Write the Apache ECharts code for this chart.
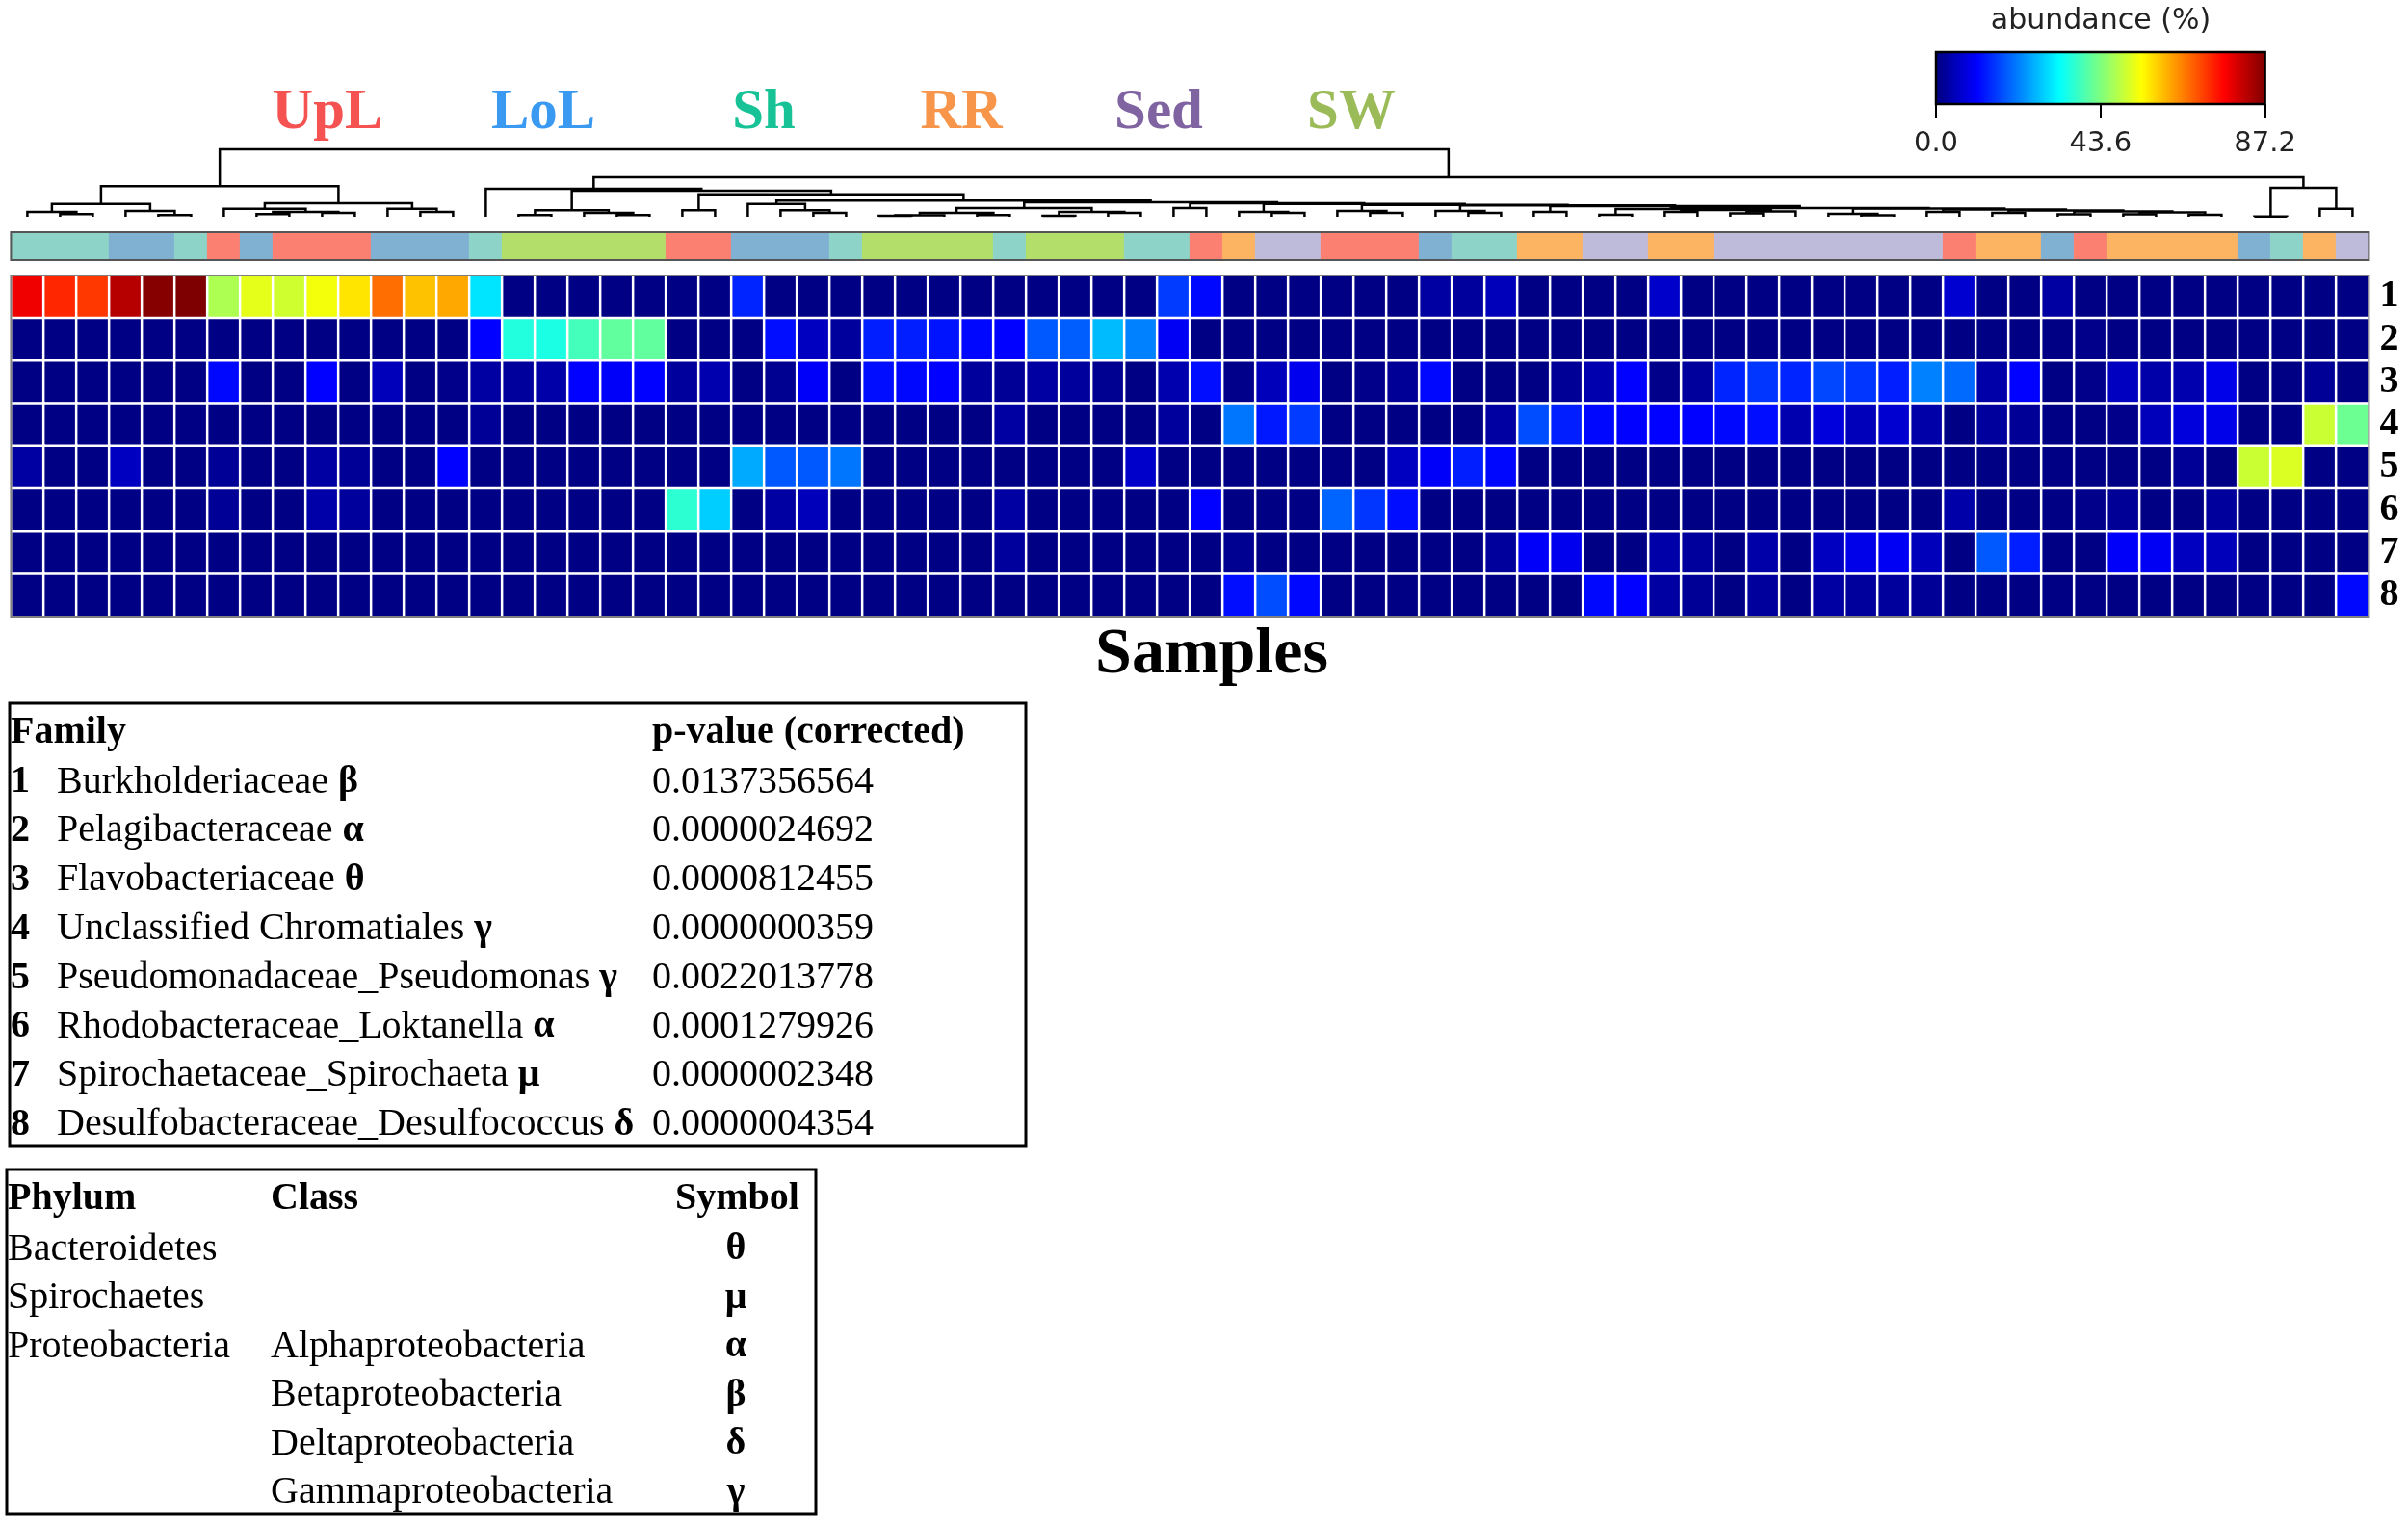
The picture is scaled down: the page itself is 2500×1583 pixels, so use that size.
<!DOCTYPE html>
<html>
<head>
<meta charset="utf-8">
<script src="https://cdn.jsdelivr.net/npm/echarts@6/dist/echarts.min.js"></script>
<style>
html,body{margin:0;padding:0;background:#fff;}
#chart{width:2500px;height:1583px;}
</style>
</head>
<body>
<div id="chart"></div>
<script>
// ---------------- DATA ----------------
const jetColors = ['#00007F','#0000FF','#007FFF','#00FFFF','#7FFF7F','#FFFF00','#FF7F00','#FF0000','#7F0000'];
const abundanceRange = [0, 87.2];
const colorbarInterval = 43.6;
const colorbarTitle = 'abundance (%)';
const rowLabels = ['1','2','3','4','5','6','7','8'];
const xTitle = 'Samples';

const groupNames = ['UpL','LoL','Sh','RR','Sed','SW'];
const groupLabelColors = {UpL:'#F45351', LoL:'#3A9AF2', Sh:'#17C396', RR:'#F7964A', Sed:'#8064A2', SW:'#9BBB59'};
const groupBarColors = {UpL:'#FB8072', LoL:'#80B1D3', Sh:'#8DD3C7', RR:'#FDB462', Sed:'#BEBADA', SW:'#B3DE69'};

const sampleGroups = ['Sh','Sh','Sh','LoL','LoL','Sh','UpL','LoL','UpL','UpL','UpL','LoL','LoL','LoL','Sh',
  'SW','SW','SW','SW','SW','UpL','UpL','LoL','LoL','LoL','Sh','SW','SW','SW','SW','Sh','SW','SW','SW','Sh','Sh',
  'UpL','RR','Sed','Sed','UpL','UpL','UpL','LoL','Sh','Sh','RR','RR','Sed','Sed','RR','RR',
  'Sed','Sed','Sed','Sed','Sed','Sed','Sed','UpL','RR','RR','LoL','UpL','RR','RR','RR','RR','LoL','Sh','RR','Sed'];

// abundance (%) per taxon row (1..8), 72 samples each
const row1 = [77.5,73,71.5,82.5,86.5,87.2,47.5,52.3,50.5,53.6,56.7,66.9,59.7,61.9,30.5,0.5,0.5,0.5,
  0.5,0.5,0.5,0.5,14,0.5,0.5,0.5,0.5,0.5,0.5,0.5,0.5,0.5,0.5,0.5,0.5,16,
  11.5,0.5,0.5,0.5,0.5,0.5,0.5,3,2.5,5,0.5,0.5,0.5,0.5,6.5,0.5,0.5,0.5,
  0.5,0.5,0.5,0.5,0.5,7,0.5,0.5,3,0.5,0.5,0.5,0.5,0.5,0.5,0.5,0.5,0.5];
const row2 = [0.5,0.5,0.5,0.5,0.5,0.5,0.5,0.5,0.5,0.5,0.5,0.5,0.5,0.5,11,35.5,35,38.5,
  41,41,0.5,0.5,0.5,12,5.5,2.5,13.5,13.5,12.5,11.5,11,18.5,19,27,22,10,
  0.5,0.5,0.5,0.5,0.5,0.5,0.5,0.5,0.5,0.5,0.5,0.5,0.5,0.5,0.5,0.5,0.5,0.5,
  0.5,0.5,0.5,0.5,0.5,0.5,0.5,0.5,0.5,1,0.5,0.5,0.5,0.5,0.5,0.5,0.5,0.5];
const row3 = [0.5,0.5,0.5,0.5,0.5,0.5,11.5,0.5,0.5,11,0.5,5,0.5,1,3,2.5,3.5,11,
  10.5,11,2.5,4,0.5,1.5,10.5,0.5,12,11.5,11,2.5,2,3,2.5,1.5,0.5,4,
  12,1,5,9.5,0.5,1,2,11.5,0.5,0.5,0.5,2,4,11,1,2.5,14,15.5,
  14,17,15.5,13.5,22,20,3.5,11,0.5,1,5.5,3.5,4,9,0.5,0.5,2,0.5];
const row4 = [0.5,0.5,0.5,0.5,0.5,0.5,0.5,0.5,0.5,0.5,0.5,0.5,0.5,0.5,2,0.5,0.5,0.5,
  0.5,0.5,0.5,0.5,0.5,0.5,0.5,0.5,0.5,0.5,0.5,0.5,3,0.5,0.5,0.5,0.5,2.5,
  0.5,21,13,16,0.5,0.5,0.5,0.5,0.5,3,17.5,13.5,11.5,11,11,11,11.5,12,
  4,8,5,7,3.5,0.5,2.5,2,0.5,0.5,1,5,8,9,0.5,0.5,50,42];
const row5 = [3,0.5,0.5,5.5,0.5,0.5,2,0.5,0.5,3,2,0.5,0.5,11,0.5,0.5,0.5,0.5,
  0.5,0.5,0.5,0.5,25.5,18.5,18.5,21,0.5,0.5,0.5,0.5,0.5,0.5,0.5,0.5,6.5,0.5,
  0.5,0.5,0.5,0.5,0.5,0.5,5.5,10.5,13.5,11.5,0.5,0.5,0.5,0.5,0.5,0.5,0.5,0.5,
  0.5,0.5,0.5,0.5,0.5,0.5,0.5,0.5,0.5,0.5,0.5,0.5,2,0.5,50,51.5,0.5,0.5];
const row6 = [0.5,0.5,0.5,0.5,0.5,0.5,2,0.5,0.5,3.5,2.5,0.5,0.5,0.5,0.5,0.5,0.5,0.5,
  0.5,0.5,36.5,28.5,0.5,3,5,0.5,0.5,0.5,0.5,0.5,3,0.5,0.5,0.5,0.5,0.5,
  11,0.5,0.5,0.5,19.5,15.5,12,0.5,0.5,0.5,0.5,0.5,0.5,0.5,0.5,0.5,0.5,0.5,
  0.5,0.5,0.5,0.5,0.5,3.5,0.5,0.5,0.5,1,2,0.5,0.5,2.5,0.5,0.5,0.5,0.5];
const row7 = [0.5,0.5,0.5,0.5,0.5,0.5,0.5,0.5,0.5,0.5,0.5,0.5,0.5,0.5,0.5,0.5,0.5,0.5,
  0.5,0.5,0.5,0.5,0.5,0.5,0.5,0.5,0.5,0.5,0.5,0.5,2.5,0.5,0.5,0.5,0.5,0.5,
  0.5,1.5,0.5,0.5,0.5,0.5,0.5,0.5,0.5,2.5,10.5,9.5,0.5,0.5,3.5,2.5,0.5,3.5,
  0.5,5.5,9,10,5,0.5,18.5,13.5,0.5,0.5,10.5,10,5.5,5,0.5,0.5,0.5,0.5];
const row8 = [0.5,0.5,0.5,0.5,0.5,0.5,0.5,0.5,0.5,0.5,0.5,0.5,0.5,0.5,0.5,0.5,0.5,0.5,
  0.5,0.5,0.5,0.5,0.5,0.5,0.5,0.5,0.5,0.5,0.5,0.5,0.5,0.5,0.5,0.5,0.5,0.5,
  0.5,12,17.5,11.5,0.5,0.5,0.5,0.5,0.5,0.5,0.5,0.5,11.5,11,3,2,0.5,2.5,
  0.5,3,2.5,2.5,2,0.5,0.5,0.5,0.5,0.5,0.5,0.5,0.5,0.5,0.5,0.5,0.5,11.5];
const abundanceRows = [row1,row2,row3,row4,row5,row6,row7,row8];

// dendrogram: node = [height, left, right]; leaf = sample index
const dendroLeft = [31.7,
  [13.3, [5, 0, [2.7, 1, 2]], [6, 3, [1.7, 4, 5]]],
  [14, [8.3, 6, [5, [2.7, 7, 8], [4, 9, 10]]], [8.3, 11, [5, 12, 13]]]
];
const dendroTail = [9,
  [8, [2, 48, 49], [7, [5, 50, 51], [5.5, [3.5, 52, 53], 54]]],
  [8.5, [3, 55, [1.5, 56, 57]], [7.5, [5, 58, 59], [6.5, [4, 60, 61], [5.5, [2.5, 62, 63], [4.5, [2.5, 64, 65], [2, 66, 67]]]]]]
];
const dendroChain = [14, [9, 35, 36],
  [13.3, [5, 37, [4, 38, 39]],
    [12.3, [6, 40, [4, 41, 42]],
      [11.7, [6, 43, [4, 44, 45]],
        [11, [5, 46, 47], dendroTail]]]]
];
const dendroRight = [41,
  [29, 14,
    [27,
      [6.7, [1.7, 15, 16], [4, 17, [1.7, 18, 19]]],
      [23.3,
        [6.7, 20, 21],
        [16.7,
          [13.3, 22, [6.7, 23, [4, 24, 25]]],
          [15,
            [9, [4, [1.5, [1, 26, 27], 28], [1.7, 29, 30]], [5, [1, 31, 32], [4, 33, 34]]],
            dendroChain]]]]],
  [30, [0.3, 68, 69], [8.3, 70, 71]]
];
const dendrogram = [70, dendroLeft, dendroRight];

const families = ['Burkholderiaceae','Pelagibacteraceae','Flavobacteriaceae','Unclassified Chromatiales',
  'Pseudomonadaceae_Pseudomonas','Rhodobacteraceae_Loktanella','Spirochaetaceae_Spirochaeta','Desulfobacteraceae_Desulfococcus'];
const familySymbols = ['β','α','θ','γ','γ','α','μ','δ'];
const pValues = ['0.0137356564','0.0000024692','0.0000812455','0.0000000359','0.0022013778','0.0001279926','0.0000002348','0.0000004354'];
const phyla = ['Bacteroidetes','Spirochaetes','Proteobacteria','','',''];
const classes = ['','','Alphaproteobacteria','Betaproteobacteria','Deltaproteobacteria','Gammaproteobacteria'];
const classSymbols = ['θ','μ','α','β','δ','γ'];

// ---------------- BUILD ----------------
const nCols = sampleGroups.length;
const sampleCats = sampleGroups.map((g, i) => String(i));

const heatData = [];
abundanceRows.forEach((row, r) => row.forEach((v, c) => heatData.push([c, r, v])));

const merges = [];
function walk(node) {
  if (!Array.isArray(node)) return {x: node, h: 0};
  const l = walk(node[1]), r = walk(node[2]);
  merges.push([l.x, l.h, r.x, r.h, node[0]]);
  return {x: (l.x + r.x) / 2, h: node[0]};
}
walk(dendrogram);

const annData = sampleGroups.map((g, i) => [i, 0, groupNames.indexOf(g)]);

const SERIF = "'Liberation Serif','DejaVu Serif',serif";
const SANS = "'DejaVu Sans',sans-serif";

const L = 11.4, W = 2448;

const graphics = [];
function txt(x, y, text, o) {
  o = o || {};
  graphics.push({type: 'text', x: x, y: y, z: 10, style: Object.assign({
    text: text, fontSize: o.size || 40, fontFamily: o.family || SERIF, fontWeight: o.weight || 'normal',
    fill: o.color || '#000', textAlign: o.align || 'left', textVerticalAlign: 'middle',
    align: o.align || 'left', verticalAlign: 'middle'
  }, o.rich ? {rich: o.rich} : {})});
}

// group labels
const groupLabelX = [340, 564, 793, 998, 1203, 1403];
groupNames.forEach((g, i) => txt(groupLabelX[i], 118, g, {size: 59, weight: 'bold', color: groupLabelColors[g], align: 'center'}));

// colorbar title
txt(2181, 22, colorbarTitle, {size: 30, family: SANS, color: '#222', align: 'center'});

// x title
txt(1258, 680, xTitle, {size: 68, weight: 'bold', align: 'center'});

// table 1
graphics.push({type: 'rect', z: 10, shape: {x: 10, y: 730, width: 1055, height: 460}, style: {fill: 'none', stroke: '#000', lineWidth: 3}});
txt(11, 761, 'Family', {weight: 'bold'});
txt(677, 761, 'p-value (corrected)', {weight: 'bold'});
const richT = {r: {fontSize: 40, fontFamily: SERIF, fill: '#000', color: '#000'}, b: {fontSize: 40, fontFamily: SERIF, fontWeight: 'bold', fill: '#000', color: '#000'}};
families.forEach((f, i) => {
  const y = 812 + 50.8 * i;
  txt(11, y, String(i + 1), {weight: 'bold'});
  txt(59, y, '{r|' + f + ' }{b|' + familySymbols[i] + '}', {rich: richT});
  txt(677, y, pValues[i]);
});

// table 2
graphics.push({type: 'rect', z: 10, shape: {x: 7, y: 1214, width: 840, height: 358}, style: {fill: 'none', stroke: '#000', lineWidth: 3}});
txt(8, 1244.5, 'Phylum', {weight: 'bold'});
txt(281, 1244.5, 'Class', {weight: 'bold'});
txt(701, 1244.5, 'Symbol', {weight: 'bold'});
classSymbols.forEach((s, i) => {
  const y = 1297 + 50.5 * i;
  if (phyla[i]) txt(8, y, phyla[i]);
  if (classes[i]) txt(281, y, classes[i]);
  txt(764, y, s, {weight: 'bold', align: 'center'});
});

const option = {
  backgroundColor: '#fff',
  animation: false,
  grid: [
    {left: L, top: 155, width: W, height: 70, show: false},
    {left: L, top: 241, width: W, height: 29, show: true, z: 3, backgroundColor: 'transparent', borderColor: '#555', borderWidth: 2},
    {left: L, top: 286, width: W, height: 354, show: true, z: 3, backgroundColor: 'transparent', borderColor: '#808080', borderWidth: 2},
    {left: 2010, top: 54, width: 341.6, height: 54, show: true, z: 3, backgroundColor: 'transparent', borderColor: '#000', borderWidth: 2.5}
  ],
  xAxis: [
    {gridIndex: 0, type: 'value', min: -0.5, max: nCols - 0.5, show: false},
    {gridIndex: 1, type: 'category', data: sampleCats, show: false},
    {gridIndex: 2, type: 'category', data: sampleCats, axisLine: {show: false}, axisTick: {show: false}, axisLabel: {show: false}, splitLine: {show: false}},
    {gridIndex: 3, type: 'value', min: abundanceRange[0], max: abundanceRange[1], interval: colorbarInterval,
      axisLine: {show: false}, splitLine: {show: false},
      axisTick: {show: true, length: 14, lineStyle: {color: '#000', width: 2}},
      axisLabel: {fontSize: 29, fontFamily: SANS, color: '#222', margin: 27, formatter: v => v.toFixed(1)}}
  ],
  yAxis: [
    {gridIndex: 0, type: 'value', min: 0, max: 70, show: false},
    {gridIndex: 1, type: 'category', data: ['g'], show: false},
    {gridIndex: 2, type: 'category', data: rowLabels, inverse: true, position: 'right',
      axisLine: {show: false}, axisTick: {show: false}, splitLine: {show: false},
      axisLabel: {interval: 0, fontSize: 40, fontWeight: 'bold', fontFamily: SERIF, color: '#000', margin: 11}},
    {gridIndex: 3, type: 'value', min: 0, max: 1, show: false}
  ],
  visualMap: [{type: 'continuous', min: abundanceRange[0], max: abundanceRange[1], seriesIndex: 2, show: false, inRange: {color: jetColors}}],
  series: [
    {
      type: 'custom', xAxisIndex: 0, yAxisIndex: 0, data: merges, silent: true,
      encode: {x: [0, 2], y: [1, 3, 4]},
      renderItem: (params, api) => {
        const xl = api.value(0), hl = api.value(1), xr = api.value(2), hr = api.value(3), h = api.value(4);
        return {type: 'polyline', shape: {points: [api.coord([xl, hl]), api.coord([xl, h]), api.coord([xr, h]), api.coord([xr, hr])]},
          style: {stroke: '#000', lineWidth: 2.5, fill: null}};
      }
    },
    {
      type: 'custom', xAxisIndex: 1, yAxisIndex: 1, data: annData, silent: true,
      encode: {x: 0, y: 1},
      renderItem: (params, api) => {
        const c = api.coord([api.value(0), api.value(1)]);
        const s = api.size([1, 1]);
        return {type: 'rect', shape: {x: c[0] - s[0] / 2 - 0.5, y: c[1] - s[1] / 2, width: s[0] + 1, height: s[1]},
          style: {fill: groupBarColors[groupNames[api.value(2)]]}};
      }
    },
    {
      type: 'heatmap', xAxisIndex: 2, yAxisIndex: 2, data: heatData,
      itemStyle: {borderColor: '#fff', borderWidth: 2.5},
      emphasis: {disabled: true}
    },
    {
      type: 'custom', xAxisIndex: 3, yAxisIndex: 3, data: [[abundanceRange[0], abundanceRange[1]]], silent: true,
      encode: {x: [0, 1]},
      renderItem: (params, api) => {
        const p0 = api.coord([api.value(0), 0]), p1 = api.coord([api.value(1), 1]);
        const stops = jetColors.map((c, i) => ({offset: i / (jetColors.length - 1), color: c}));
        return {type: 'rect', shape: {x: p0[0], y: p1[1], width: p1[0] - p0[0], height: p0[1] - p1[1]},
          style: {fill: new echarts.graphic.LinearGradient(0, 0, 1, 0, stops)}};
      }
    }
  ],
  graphic: graphics
};

const chart = echarts.init(document.getElementById('chart'), null, {renderer: 'canvas'});
chart.setOption(option);
</script>
</body>
</html>
